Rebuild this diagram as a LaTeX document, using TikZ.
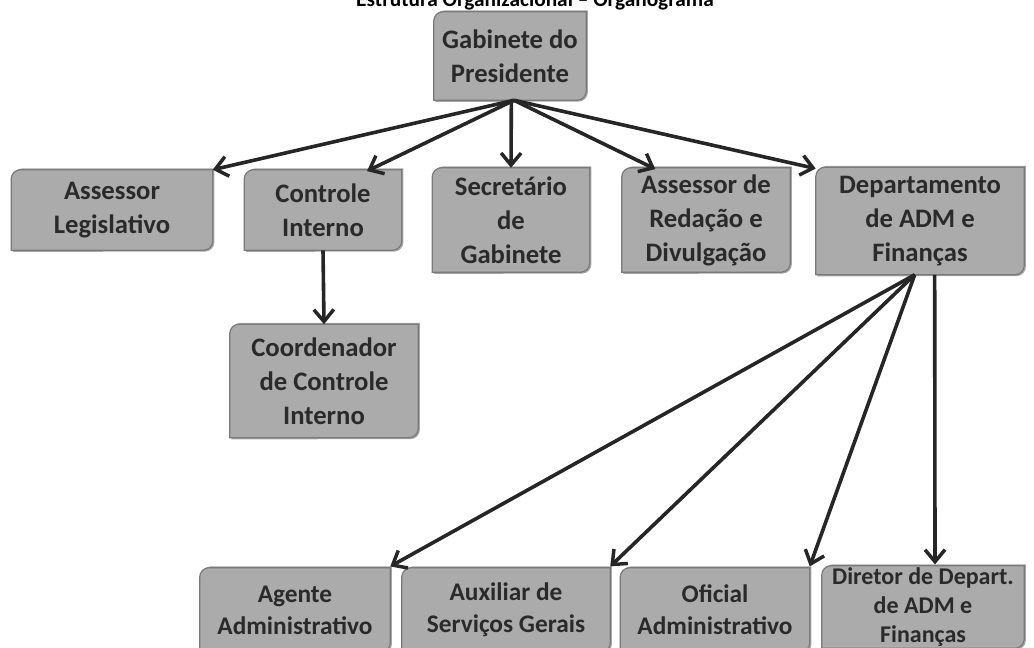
\documentclass[tikz,border=0pt]{standalone}
\usepackage{fontspec}
\setmainfont{Carlito}
\usetikzlibrary{arrows.meta,backgrounds}
\definecolor{boxfill}{HTML}{ABABAB}
\definecolor{boxline}{HTML}{7A7A7A}
\definecolor{txt}{HTML}{2A2A2A}
\tikzset{
 bx/.style 2 args={minimum width=#1*0.75pt, minimum height=#2*0.75pt, inner sep=0pt, align=center, text=txt, font=\bfseries\fontsize{20}{25.5}\selectfont},
 bxs/.style 2 args={bx={#1}{#2}, font=\bfseries\fontsize{19}{24}\selectfont},
 bxd/.style 2 args={bx={#1}{#2}, font=\bfseries\fontsize{18}{22}\selectfont},
 conn/.style={-{Straight Barb[length=9pt,width=15pt,line width=2.6pt]}, line width=2.7pt, draw=black!85}
}
\newcommand\diagshape[1]{%
 \fill[black!35] ([xshift=1.2pt,yshift=-6pt]#1.north west) arc[start angle=180,end angle=90,radius=7pt] -- ([xshift=1.2pt,yshift=1pt]#1.north east) -- ([xshift=1.2pt,yshift=6pt]#1.south east) arc[start angle=0,end angle=-90,radius=7pt] -- ([xshift=1.2pt,yshift=-1.2pt]#1.south west) -- cycle;
 \filldraw[fill=boxfill, draw=boxline, line width=0.9pt] ([yshift=-7pt]#1.north west) arc[start angle=180,end angle=90,radius=7pt] -- (#1.north east) -- ([yshift=7pt]#1.south east) arc[start angle=0,end angle=-90,radius=7pt] -- (#1.south west) -- cycle;}
\begin{document}
\begin{tikzpicture}[x=0.75pt,y=-0.75pt]
\useasboundingbox (0,0) rectangle (1034,647);
\clip (0,0) rectangle (1034,647);
\node[font=\bfseries\fontsize{16}{18}\selectfont, anchor=base, inner sep=0pt] (title) at (535,6) {Estrutura Organizacional – Organograma};
\node[bx={152}{88}] (gab) at (510,56) {Gabinete do\\Presidente};
\node[bx={201}{80}] (al) at (112,210) {Assessor\\Legislativo};
\node[bx={157}{80}] (ci) at (323,210) {Controle\\Interno};
\node[bx={157}{104}] (sg) at (511,220) {Secretário\\de\\Gabinete};
\node[bx={168}{104}] (ar) at (706,220) {Assessor de\\Redação e\\Divulgação};
\node[bx={208}{107}] (dep) at (920,221) {Departamento\\de ADM e\\Finanças};
\node[bx={188}{113}] (coord) at (324,381) {Coordenador\\de Controle\\Interno};
\node[bxs={190}{84}] (ag) at (295,610) {Agente\\Administrativo};
\node[bxs={208}{84}] (aux) at (506,610) {Auxiliar de\\Serviços Gerais};
\node[bxs={189}{84}] (of) at (715,610) {Oficial\\Administrativo};
\node[bxd={202}{82}] (dir) at (923,607) {Diretor de Depart.\\de ADM e\\Finanças};
\begin{scope}[on background layer]
\foreach \n in {gab,al,ci,sg,ar,dep,coord,ag,aux,of,dir} {\diagshape{\n}}
\end{scope}
\draw[conn] ([xshift=3pt]gab.south) -- (al.north east);
\draw[conn] ([xshift=3pt]gab.south) -- ([xshift=33pt,yshift=-1pt]ci.north);
\draw[conn] ([xshift=1pt]gab.south) -- (sg.north);
\draw[conn] ([xshift=3pt]gab.south) -- ([xshift=-38pt,yshift=-1pt]ar.north);
\draw[conn] ([xshift=3pt]gab.south) -- ([yshift=-1pt]dep.north west);
\draw[conn] (ci.south) -- (coord.north);
\draw[conn] ([xshift=-4pt]dep.south) -- ([yshift=1pt]ag.north east);
\draw[conn] ([xshift=-4pt]dep.south) -- ([yshift=1pt]aux.north east);
\draw[conn] ([xshift=-4pt]dep.south) -- ([yshift=1pt]of.north east);
\draw[conn] ([xshift=11pt]dep.south) -- ([xshift=9pt,yshift=1pt]dir.north);
\end{tikzpicture}
\end{document}
